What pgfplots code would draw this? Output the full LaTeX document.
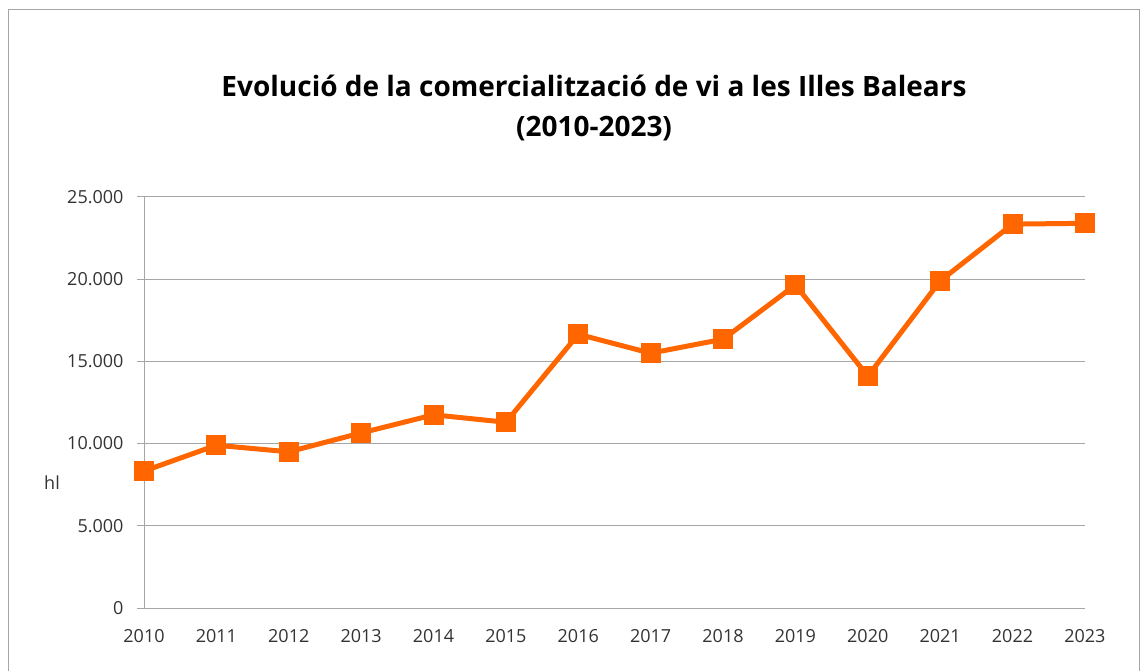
\documentclass[border=0pt]{standalone}
\usepackage{pgfplots}
\pgfplotsset{compat=1.18}
\usepackage{fontspec}
\setmainfont{Open Sans}
\definecolor{lineor}{HTML}{FF6600}
\definecolor{gridc}{HTML}{A6A6A6}
\definecolor{txt}{HTML}{333333}
\begin{document}
\begin{tikzpicture}[x=1pt,y=1pt]
\useasboundingbox (0,0) rectangle (1143,670);
\draw[color=gridc, line width=1pt] (8.5,-5) rectangle (1139.5,660);
\node[font=\fontsize{28}{40}\selectfont\bfseries, align=center, text=black] at (594,562) {Evolució de la comercialització de vi a les Illes Balears\\(2010-2023)};
\node[font=\fontsize{18}{20}\selectfont, text=txt] at (52,187) {hl};
\begin{axis}[
  at={(144pt,62pt)}, anchor=south west,
  scale only axis, width=941pt, height=411pt,
  xmin=2010, xmax=2023, ymin=0, ymax=25000,
  xtick={2010,...,2023}, ytick={0,5000,...,25000},
  axis x line*=bottom, axis y line*=left,
  axis line style={gridc, line width=1pt},
  every outer x axis line/.append style={-},
  every outer y axis line/.append style={-},
  ymajorgrids, grid style={gridc, line width=1pt},
  xtick style={draw=none},
  ytick style={gridc, line width=1pt},
  tick align=outside, major tick length=7pt,
  scaled y ticks=false,
  /pgf/number format/assume math mode=true,
  yticklabel={\pgfmathprintnumber[1000 sep={.}]{\tick}},
  xticklabel={\pgfmathprintnumber[1000 sep={}]{\tick}},
  ticklabel style={font=\fontsize{18}{20}\selectfont, text=txt},
  yticklabel style={xshift=-10pt},
  xticklabel style={yshift=-11pt},
  clip=false,
]
\addplot[color=lineor, line width=5pt, mark=square*, mark size=9.5pt, mark options={fill=lineor, draw=lineor, line width=0pt}] coordinates {
(2010,8330) (2011,9900) (2012,9500) (2013,10650) (2014,11750) (2015,11300)
(2016,16650) (2017,15500) (2018,16350) (2019,19650) (2020,14100)
(2021,19900) (2022,23350) (2023,23400)
};
\end{axis}
\end{tikzpicture}
\end{document}
